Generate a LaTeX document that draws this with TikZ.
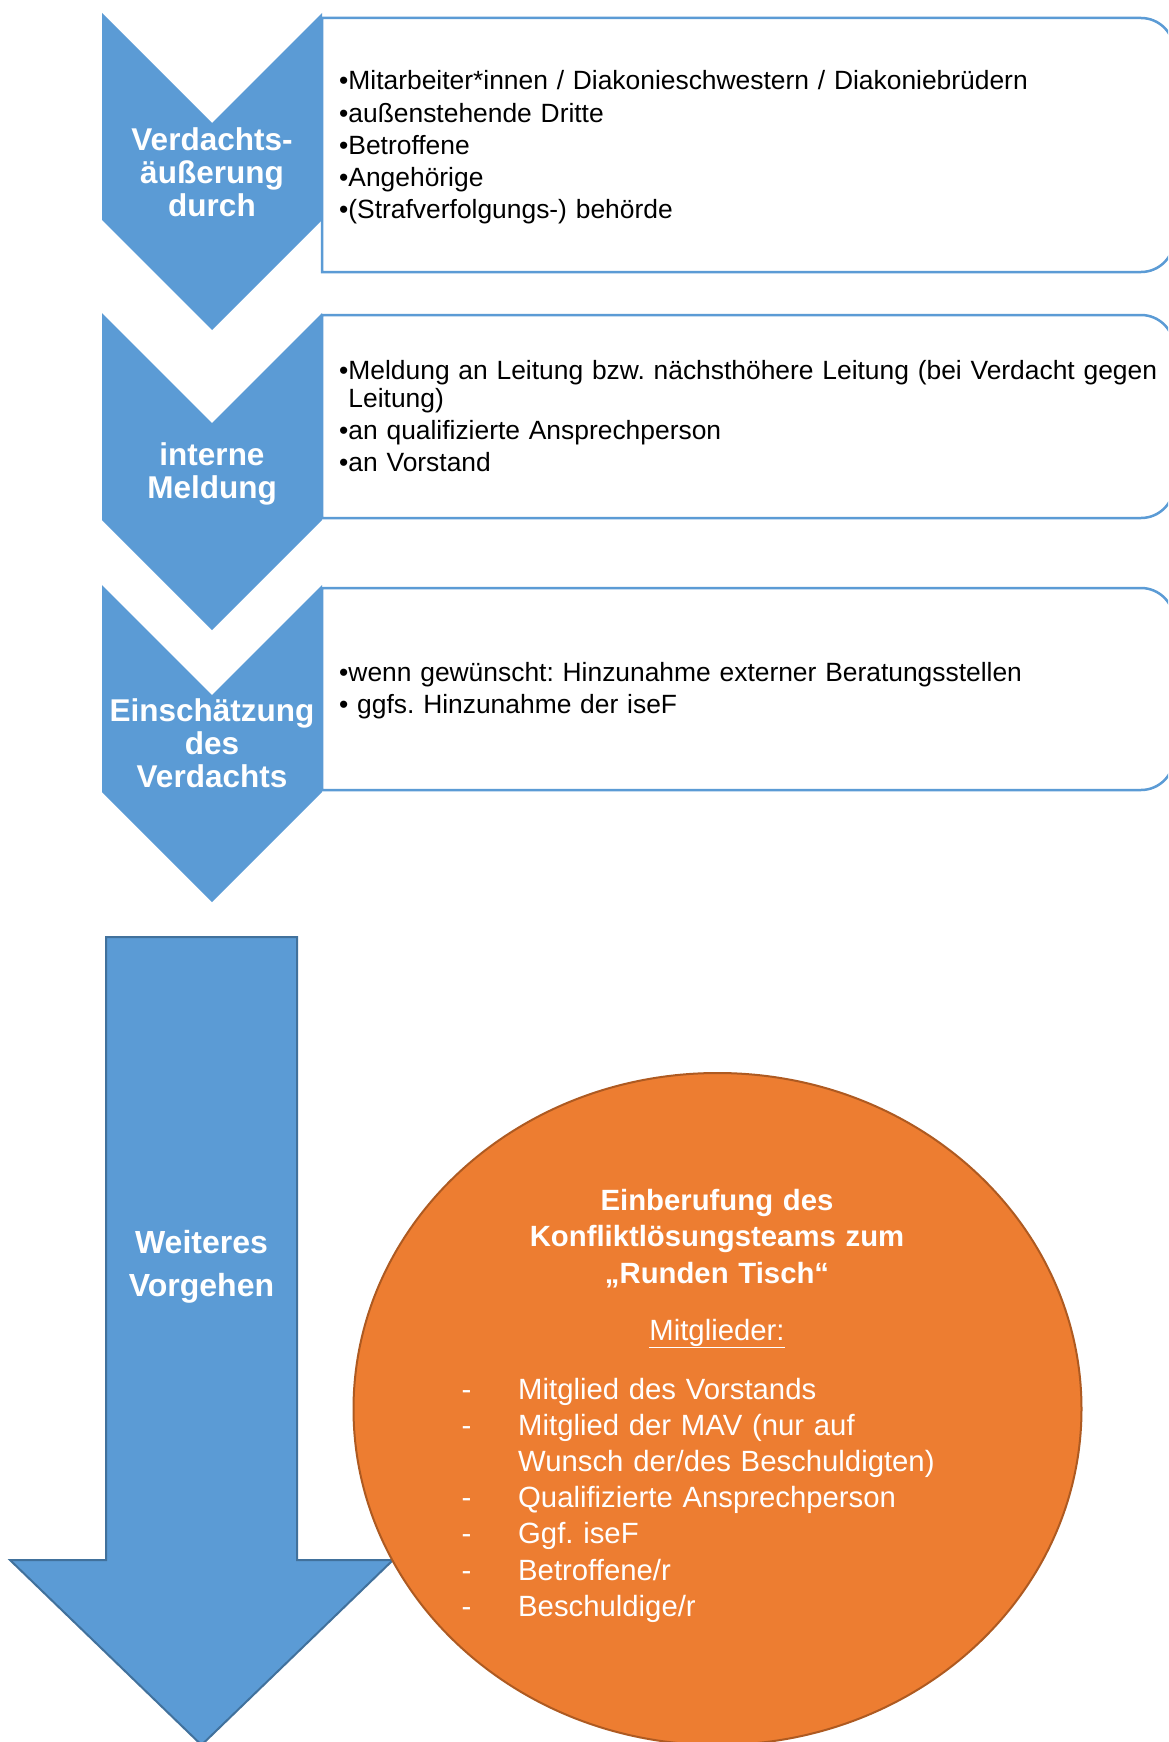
\documentclass[tikz,border=0pt]{standalone}
\usepackage{fontspec}
\setmainfont{Liberation Sans}
\definecolor{ablue}{HTML}{5B9BD5}
\definecolor{ablueline}{HTML}{41719C}
\definecolor{aorange}{HTML}{ED7D31}
\definecolor{aorangeline}{HTML}{AE5A21}
\tikzset{
  chevronshape/.style={fill=ablue, draw=none},
  panel/.style={draw=ablue, line width=2.5pt, fill=white},
  headtext/.style={text=white, font=\bfseries\fontsize{31.5}{33}\selectfont, align=center, text width=240pt, inner sep=0pt, anchor=base},
  itemtext/.style={text=black, font=\fontsize{26.4}{32.2}\selectfont, align=left, text width=900pt, inner sep=0pt, anchor=base west},
  bigarrow/.style={fill=ablue, draw=ablueline, line width=2pt, line join=miter},
  roundtable/.style={fill=aorange, draw=aorangeline, line width=2pt},
  tabletitle/.style={text=white, font=\bfseries\fontsize{29.3}{36.5}\selectfont, align=center, text width=600pt, inner sep=0pt, anchor=base},
  tablelist/.style={text=white, font=\fontsize{29.3}{36.2}\selectfont, align=left, text width=600pt, inner sep=0pt, anchor=base west}
}
\newcommand{\panelshape}[2]{%
  \draw[panel] (322,#1) -- (1141,#1) .. controls (1159.2,#1) and (1174,{#1+14.8}) .. (1174,{#1+33})
    -- (1174,{#2-33}) .. controls (1174,{#2-14.8}) and (1159.2,#2) .. (1141,#2) -- (322,#2) -- cycle;}
\newcommand{\chevronat}[1]{%
  \fill[chevronshape] (102,#1) -- (212,{#1+110}) -- (322,#1) -- (322,{#1+207}) -- (212,{#1+317}) -- (102,{#1+207}) -- cycle;}
\newcommand{\dashitem}{\makebox[56.5pt][l]{-}}
\begin{document}
\frenchspacing
\begin{tikzpicture}[x=1pt,y=-1pt]
  \clip (0,0) rectangle (1168,1742);
  \fill[white] (0,0) rectangle (1168,1742);

  % chevrons
  \chevronat{13}
  \chevronat{313}
  \chevronat{585}

  % panels
  \panelshape{18}{272}
  \panelshape{315}{518}
  \panelshape{588}{790}

  % chevron labels
  \node[headtext] (h1) at (212,150) {Verdachts-\\äußerung\\durch};
  \node[headtext] (h2) at (212,465) {interne\\Meldung};
  \node[headtext] (h3) at (212,721) {Einschätzung\\des\\Verdachts};

  % panel texts
  \node[itemtext] (p1) at (339,90) {•Mitarbeiter*innen / Diakonieschwestern / Diakoniebrüdern\\•außenstehende Dritte\\•Betroffene\\•Angehörige\\•(Strafverfolgungs-) behörde};
  \node[itemtext, font=\fontsize{26.4}{27.8}\selectfont] (p2) at (339,379.5) {•Meldung an Leitung bzw. nächsthöhere Leitung (bei Verdacht gegen\\\phantom{•}Leitung)\\[4.3pt]•an qualifizierte Ansprechperson\\[4.3pt]•an Vorstand};
  \node[itemtext] (p3) at (339,681) {•wenn gewünscht: Hinzunahme externer Beratungsstellen\\• ggfs. Hinzunahme der iseF};

  % big arrow
  \draw[bigarrow] (106,937) -- (297,937) -- (297,1560) -- (393,1560) -- (201.5,1745) -- (10,1560) -- (106,1560) -- cycle;
  \node[headtext, font=\bfseries\fontsize{32}{43}\selectfont] (h4) at (201.5,1253) {Weiteres\\Vorgehen};

  % round table
  \draw[roundtable] (717.5,1409) ellipse [x radius=364pt, y radius=336pt];
  \node[tabletitle] (t1) at (717,1210) {Einberufung des\\Konfliktlösungsteams zum\\„Runden Tisch“};
  \node[tabletitle, font=\fontsize{29.3}{36.5}\selectfont] (t2) at (717,1340) {\underline{Mitglieder:}};
  \node[tablelist] (t3) at (461.5,1399) {\dashitem Mitglied des Vorstands\\\dashitem Mitglied der MAV (nur auf\\\hspace*{56.5pt}Wunsch der/des Beschuldigten)\\\dashitem Qualifizierte Ansprechperson\\\dashitem Ggf. iseF\\\dashitem Betroffene/r\\\dashitem Beschuldige/r};
\end{tikzpicture}
\end{document}
